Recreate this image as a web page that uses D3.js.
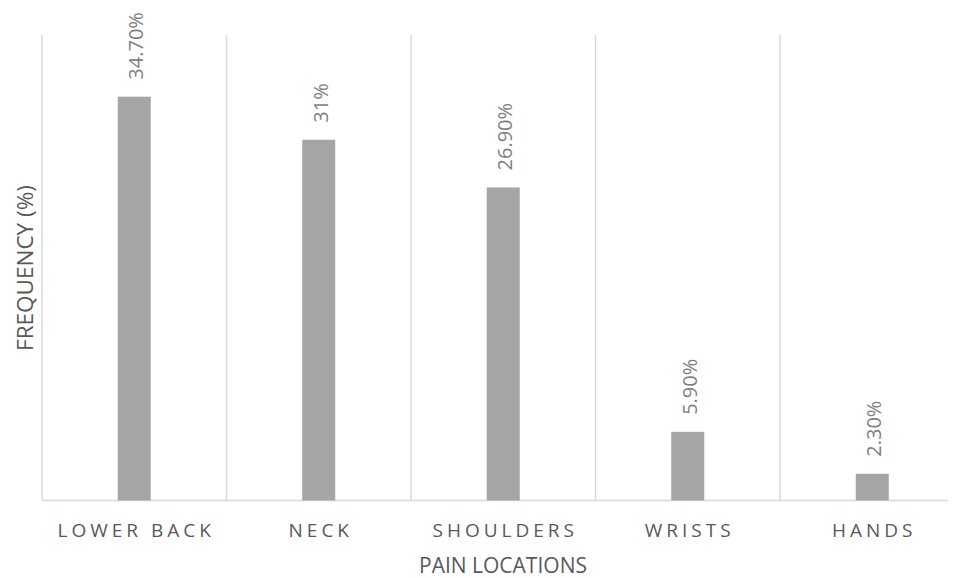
<!DOCTYPE html>
<html><head><meta charset="utf-8">
<script src="https://cdn.jsdelivr.net/npm/d3@7"></script>
<style>body{margin:0;background:#fff}</style>
</head><body><svg id="c" width="953" height="578"></svg>
<script>
const categories = ["LOWER BACK","NECK","SHOULDERS","WRISTS","HANDS"];
const values = [34.7, 31, 26.9, 5.9, 2.3];
const valueLabels = ["34.70%","31%","26.90%","5.90%","2.30%"];
const yDomain = [0, 40];

const svg = d3.select("#c");
const mLeft = 42, mTop = 35, mBottom = 500.5;
const bandW = 184.5;
const x = d3.scaleBand().domain(categories).range([mLeft, mLeft + bandW*categories.length]).paddingInner(0).paddingOuter(0);
const y = d3.scaleLinear().domain(yDomain).range([mBottom, mTop]);
const font = "'Open Sans', sans-serif";

const gl = categories.map(c=>x(c));
svg.selectAll("line.g").data(gl).enter().append("line")
  .attr("x1",d=>d).attr("x2",d=>d).attr("y1",mTop).attr("y2",mBottom)
  .attr("stroke","#d9d9d9").attr("stroke-width",1.5);
svg.append("line").attr("x1",mLeft).attr("x2",948).attr("y1",mBottom).attr("y2",mBottom)
  .attr("stroke","#d9d9d9").attr("stroke-width",1.5);

const bw = 33;
svg.selectAll("rect.b").data(values).enter().append("rect")
  .attr("x",(d,i)=>x(categories[i])+x.bandwidth()/2-bw/2)
  .attr("width",bw)
  .attr("y",d=>y(d)).attr("height",d=>mBottom-y(d))
  .attr("fill","#a5a5a5");

svg.selectAll("text.v").data(values).enter().append("text")
  .attr("transform",(d,i)=>`translate(${x(categories[i])+x.bandwidth()/2+9},${y(d)-17}) rotate(-90)`)
  .attr("font-family",font).attr("font-size",20).attr("fill","#7f7f7f")
  .text((d,i)=>valueLabels[i]);

svg.selectAll("text.c").data(categories).enter().append("text")
  .attr("x",d=>x(d)+x.bandwidth()/2+2).attr("y",537)
  .attr("text-anchor","middle").attr("font-family",font).attr("font-size",19)
  .attr("letter-spacing","4px").attr("fill","#595959").text(d=>d);

svg.append("text").attr("x",503).attr("y",573).attr("text-anchor","middle")
  .attr("font-family",font).attr("font-size",21).attr("fill","#595959").text("PAIN LOCATIONS");
svg.append("text").attr("transform","translate(33,268) rotate(-90)").attr("text-anchor","middle")
  .attr("font-family",font).attr("font-size",22.5).attr("fill","#595959").text("FREQUENCY (%)");
</script></body></html>
